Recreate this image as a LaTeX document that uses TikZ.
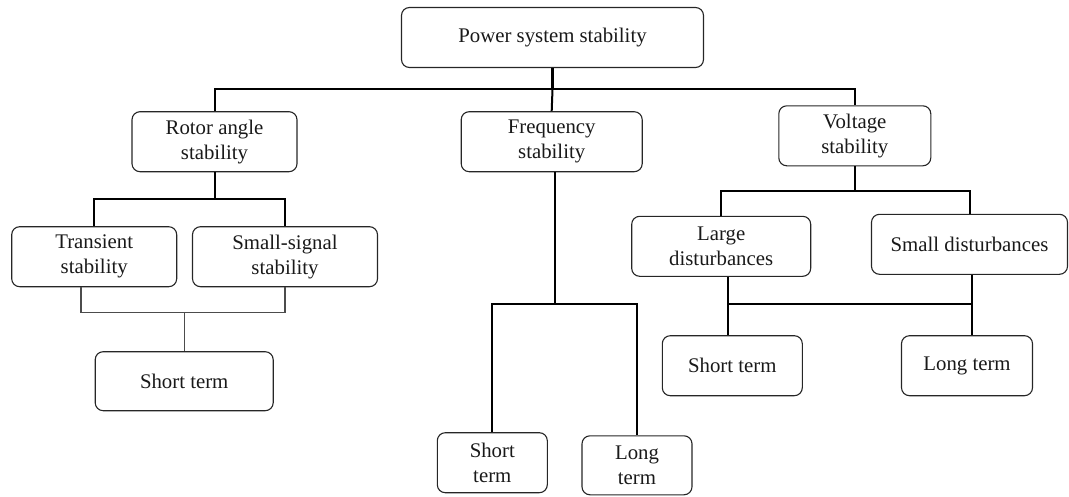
\documentclass[tikz,border=0pt]{standalone}
\usepackage{fontspec}
\setmainfont{Liberation Serif}
\usetikzlibrary{calc}
\tikzset{
  box/.style={draw=black!85, line width=1.1pt, rounded corners=8pt, align=center,
    inner sep=0pt, font=\fontsize{20.8}{24.8}\selectfont, text=black!90},
  conn/.style={draw=black, line width=2pt},
  thinconn/.style={draw=black!70, line width=1.1pt},
}
\begin{document}
\begin{tikzpicture}[x=1pt,y=-1pt]
\useasboundingbox (0,0) rectangle (1069,496);
% nodes
\node[box, minimum width=302pt, minimum height=60pt] (root) at (552.5,37.5) {Power system stability};
\node[box, minimum width=165pt, minimum height=60pt] (rotor) at (214.5,141.7) {Rotor angle\\stability};
\node[box, minimum width=181pt, minimum height=60pt] (freq) at (551.7,141.7) {Frequency\\stability};
\node[box, minimum width=152pt, minimum height=60pt] (volt) at (854.8,135.8) {Voltage\\stability};
\node[box, minimum width=165pt, minimum height=60pt] (trans) at (94.2,256.7) {Transient\\stability};
\node[box, minimum width=185pt, minimum height=60pt] (small) at (285,256.7) {Small-signal\\stability};
\node[box, minimum width=178pt, minimum height=59pt] (shortA) at (184.2,381.2) {Short term};
\node[box, minimum width=179pt, minimum height=60pt] (large) at (721.2,246.3) {Large\\disturbances};
\node[box, minimum width=196pt, minimum height=60pt] (smalld) at (969.5,244.3) {Small disturbances};
\node[box, minimum width=140pt, minimum height=60pt] (shortV) at (732.3,365.7) {Short term};
\node[box, minimum width=131pt, minimum height=60pt] (longV) at (967,365.7) {Long term};
\node[box, minimum width=110pt, minimum height=60pt] (shortF) at (492.3,462.7) {Short\\term};
\node[box, minimum width=110pt, minimum height=59pt] (longF) at (637,465.3) {Long\\term};
% junctions
\coordinate (j1) at (552.5,89.3);
\coordinate (jr) at (214.5,199.3);
\coordinate (ja) at (184.2,312.7);
\coordinate (ta) at (81,312.7);
\coordinate (jf) at (555,304.3);
\coordinate (jv) at (854.8,191);
\coordinate (jl) at (728.3,304);
\coordinate (js) at (971.7,304);
% connectors
\draw[conn, line width=2.6pt] (root.south) -- (j1);
\draw[conn] (rotor.north) |- (j1) -| (volt.north);
\draw[conn] (j1) -- (freq.north);
\draw[conn] (rotor.south) -- (jr);
\draw[conn] (trans.north) |- (jr) -| (small.north);
\draw[thinconn] (trans.south -| ta) -- (ta) -- (ja) -| (small.south);
\draw[thinconn] (ja) -- (shortA.north);
\draw[conn] (freq.south -| jf) -- (jf);
\draw[conn] (shortF.north) |- (jf) -| (longF.north);
\draw[conn] (volt.south) -- (jv);
\draw[conn] (large.north) |- (jv) -| (smalld.north);
\draw[conn] (large.south -| jl) -- (shortV.north -| jl);
\draw[conn] (smalld.south -| js) -- (longV.north -| js);
\draw[conn] (jl) -- (js);
\end{tikzpicture}
\end{document}
